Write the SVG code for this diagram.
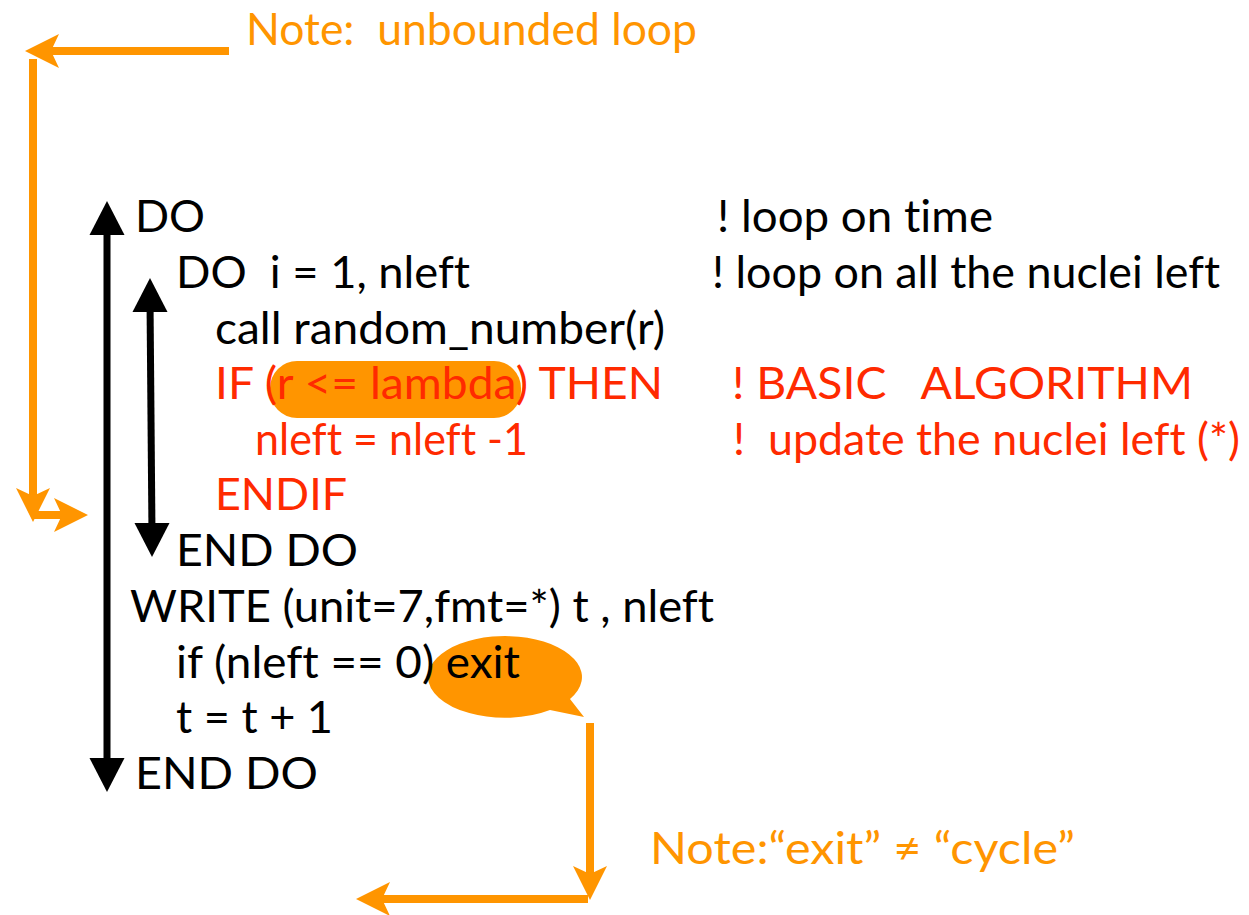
<svg xmlns="http://www.w3.org/2000/svg" xmlns:xlink="http://www.w3.org/1999/xlink" width="1249" height="915" viewBox="0 0 1249 915">
<style>
text{font-family:"Gill Sans","Gill Sans MT",Lato,"Open Sans",sans-serif;font-size:44px;white-space:pre;font-variant-ligatures:none}
.k{fill:#000}
.r{fill:#FF2A00}
.o{fill:#FF9500}
.ol{stroke:#FF9500;stroke-width:8;fill:none}
.bl{stroke:#000;stroke-width:7;fill:none}
</style>
<defs>
<path id="bh" d="M0,0 L17.5,34 L-17.5,34 Z"/>
<path id="oh" d="M0,0 L17,34 L0,26 L-17,34 Z" fill="#FF9500"/>
</defs>
<rect width="1249" height="915" fill="#fff"/>
<g id="highlight-cond">
<rect x="270" y="361" width="251" height="57" rx="27" fill="#FF9500"/>
</g>
<g id="bubble-exit">
<path d="M428,676 A77,41 0 1 1 570,699 L584,717 L550,710 A77,41 0 0 1 428,676 Z" fill="#FF9500"/>
</g>
<g id="connectors">
<line class="ol" x1="48" y1="51" x2="229" y2="51"/>
<use href="#oh" transform="translate(25,51) rotate(-90)"/>
<line class="ol" x1="33" y1="59" x2="33" y2="502"/>
<use href="#oh" transform="translate(33,522) rotate(180)"/>
<line class="ol" x1="33" y1="515" x2="68" y2="515" stroke-width="7"/>
<use href="#oh" transform="translate(88,515) rotate(90)"/>
<line class="bl" x1="107" y1="225" x2="107" y2="770"/>
<use href="#bh" transform="translate(107,201)"/>
<use href="#bh" transform="translate(107,792) rotate(180)"/>
<line class="bl" x1="150" y1="300" x2="152" y2="535"/>
<use href="#bh" transform="translate(150,278)"/>
<use href="#bh" transform="translate(152,557) rotate(180)"/>
<line class="ol" x1="590" y1="723" x2="590" y2="878"/>
<use href="#oh" transform="translate(590,900) rotate(180)"/>
<line class="ol" x1="588" y1="899" x2="380" y2="899"/>
<use href="#oh" transform="translate(356,899) rotate(-90)"/>
</g>
<g id="note-unbounded"><text class="o" x="246" y="45" textLength="451" lengthAdjust="spacingAndGlyphs">Note:  unbounded loop</text></g>
<g id="line-do"><text class="k" x="135" y="232" textLength="70" lengthAdjust="spacingAndGlyphs">DO</text><text class="k" x="717" y="232" textLength="276" lengthAdjust="spacingAndGlyphs">! loop on time</text></g>
<g id="line-do-i"><text class="k" x="176" y="288" textLength="294" lengthAdjust="spacingAndGlyphs">DO  i = 1, nleft</text><text class="k" x="712" y="288" textLength="508" lengthAdjust="spacingAndGlyphs">! loop on all the nuclei left</text></g>
<g id="line-call"><text class="k" x="215" y="344" textLength="450" lengthAdjust="spacingAndGlyphs">call random_number(r)</text></g>
<g id="line-if"><text class="r" x="215" y="399" textLength="448" lengthAdjust="spacingAndGlyphs">IF (r &lt;= lambda) THEN</text><text class="r" x="732" y="399" textLength="461" lengthAdjust="spacingAndGlyphs">! BASIC   ALGORITHM</text></g>
<g id="line-update"><text class="r" x="255" y="455" textLength="273" lengthAdjust="spacingAndGlyphs">nleft = nleft -1</text><text class="r" x="733" y="455" textLength="507" lengthAdjust="spacingAndGlyphs">!  update the nuclei left (*)</text></g>
<g id="line-endif"><text class="r" x="215" y="510" textLength="132" lengthAdjust="spacingAndGlyphs">ENDIF</text></g>
<g id="line-enddo-inner"><text class="k" x="176" y="566" textLength="182" lengthAdjust="spacingAndGlyphs">END DO</text></g>
<g id="line-write"><text class="k" x="130" y="622" textLength="584" lengthAdjust="spacingAndGlyphs">WRITE (unit=7,fmt=*) t , nleft</text></g>
<g id="line-exit"><text class="k" x="176" y="678" textLength="344" lengthAdjust="spacingAndGlyphs">if (nleft == 0) exit</text></g>
<g id="line-t"><text class="k" x="176" y="733" textLength="157" lengthAdjust="spacingAndGlyphs">t = t + 1</text></g>
<g id="line-enddo-outer"><text class="k" x="135" y="789" textLength="183" lengthAdjust="spacingAndGlyphs">END DO</text></g>
<g id="note-exit"><text class="o" x="650" y="864" textLength="425" lengthAdjust="spacingAndGlyphs">Note:“exit” ≠ “cycle”</text></g>
</svg>
